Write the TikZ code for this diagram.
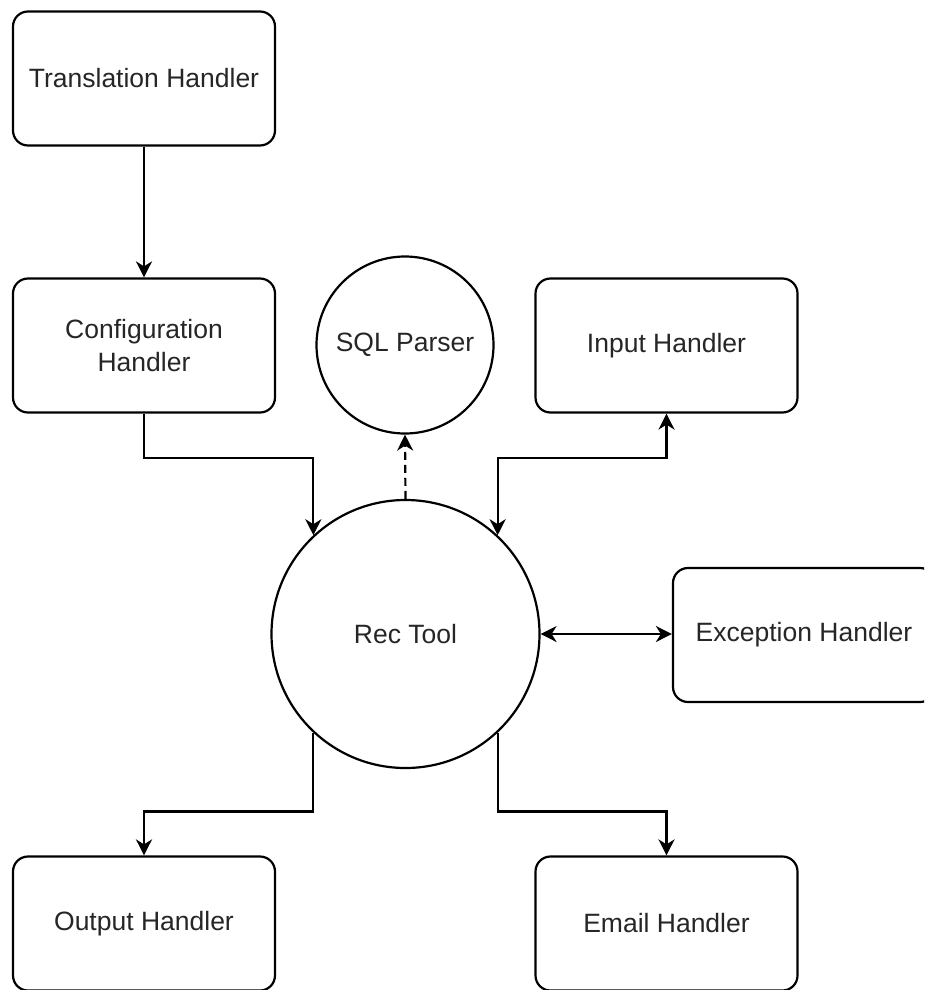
\documentclass[tikz,border=0pt]{standalone}
\usepackage{fontspec}
\setmainfont{Liberation Sans}
\usetikzlibrary{arrows.meta}
\definecolor{txt}{HTML}{262626}
\begin{document}
\begin{tikzpicture}[x=1pt,y=-1pt,
  every node/.style={font=\fontsize{26.5}{33}\selectfont, text=txt},
  hbox/.style={draw=black, line width=2.2pt, rounded corners=15pt, fill=white,
    minimum width=262pt, minimum height=134pt, inner sep=0pt, align=center},
  hcirc/.style={draw=black, line width=2.2pt, circle, fill=white, inner sep=0pt},
  conn/.style={draw=black, line width=2.2pt},
  tip/.tip={Stealth[length=16pt,width=16pt,inset=5pt]},
  arr/.style={conn, -{tip}},
  biarr/.style={conn, {tip}-{tip}}]
\clip (0,0) rectangle (924,990);
\fill[white] (0,0) rectangle (924,990);

\node[hbox] (trans) at (144,78.5) {Translation Handler};
\node[hbox] (config) at (144,345.5) {Configuration\\Handler};
\node[hcirc, minimum size=177pt] (sql) at (405,345) {SQL Parser};
\node[hbox] (input) at (666.5,345.5) {Input Handler};
\node[hcirc, minimum size=268pt] (rec) at (405.5,634) {Rec Tool};
\node[hbox] (exc) at (804,635) {Exception Handler};
\node[hbox] (out) at (144,923.5) {Output Handler};
\node[hbox] (email) at (666.5,923.5) {Email Handler};

\draw[arr] (trans.south) -- (config.north);
\draw[arr] (config.south) -- ([yshift=-44pt]config.south) -| (rec.133);
\draw[arr, dash pattern=on 8pt off 5pt] (rec.north) -- (sql.south);
\draw[biarr] (rec.47) |- ([yshift=-44pt]input.south) -- (input.south);
\draw[biarr] (rec.east) -- (exc.west |- rec.east);
\draw[arr] (rec.227) |- ([yshift=44pt]out.north) -- (out.north);
\draw[arr] (rec.313) |- ([yshift=44pt]email.north) -- (email.north);
\end{tikzpicture}
\end{document}
